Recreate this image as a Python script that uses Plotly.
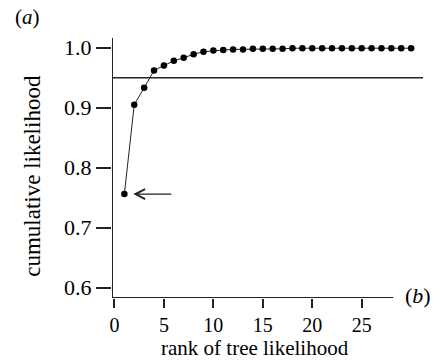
import plotly.graph_objects as go

ranks = list(range(1, 31))
cum_likelihood = [0.756, 0.905, 0.933, 0.962, 0.970, 0.978, 0.983, 0.989, 0.993, 0.995,
                  0.996, 0.997, 0.997, 0.998, 0.998, 0.998, 0.998, 0.999, 0.999, 0.999,
                  0.999, 0.999, 0.999, 0.999, 0.999, 0.999, 0.999, 0.999, 0.999, 0.999]
threshold = 0.95
x_ticks = [0, 5, 10, 15, 20, 25]
y_ticks = [0.6, 0.7, 0.8, 0.9, 1.0]
x_title = "rank of tree likelihood"
y_title = "cumulative likelihood"

FONT = "Liberation Serif"
xr = [-0.25, 31.2]
yr = [0.583, 1.016]

fig = go.Figure()
fig.add_trace(go.Scatter(
    x=ranks, y=cum_likelihood, mode="lines+markers",
    line=dict(color="#222", width=1),
    marker=dict(color="black", size=6.5),
    showlegend=False,
))

fig.add_shape(type="line", xref="paper", yref="y", x0=0, x1=1, y0=threshold, y1=threshold,
              line=dict(color="#222", width=1.5))
# axis lines
fig.add_shape(type="line", xref="x", yref="y", x0=xr[0], x1=28.2, y0=yr[0], y1=yr[0],
              line=dict(color="#222", width=2))
fig.add_shape(type="line", xref="x", yref="y", x0=xr[0], x1=xr[0], y0=yr[0], y1=yr[1],
              line=dict(color="#222", width=2))

fig.add_annotation(x=1.9, y=cum_likelihood[0], ax=5.9, ay=cum_likelihood[0],
                   xref="x", yref="y", axref="x", ayref="y",
                   showarrow=True, arrowhead=5, arrowsize=1.6, arrowwidth=1.2,
                   arrowcolor="#222", text="")

fig.add_annotation(text="(<i>a</i>)", xref="paper", yref="paper", x=-0.318, y=1.081,
                   showarrow=False, font=dict(family=FONT, size=21, color="black"),
                   xanchor="left", yanchor="middle")
fig.add_annotation(text="(<i>b</i>)", xref="paper", yref="paper", x=0.936, y=0.008,
                   showarrow=False, font=dict(family=FONT, size=22, color="black"),
                   xanchor="left", yanchor="middle")
fig.add_annotation(text=x_title, xref="paper", yref="paper", x=0.46, y=-0.2415,
                   showarrow=False, font=dict(family=FONT, size=21, color="black"),
                   xanchor="center", yanchor="bottom", borderpad=0)
fig.add_annotation(text=y_title, xref="paper", yref="paper", x=-0.254, y=0.47,
                   textangle=-90, showarrow=False,
                   font=dict(family=FONT, size=23, color="black"),
                   xanchor="center", yanchor="middle")

fig.update_layout(
    width=443, height=361,
    margin=dict(l=112, r=20, t=38, b=63),
    paper_bgcolor="white", plot_bgcolor="white",
    font=dict(family=FONT, color="black"),
    xaxis=dict(range=xr, tickvals=x_ticks, ticks="outside", ticklen=9, tickwidth=2,
               tickcolor="#222", showline=False, showgrid=False, zeroline=False,
               automargin=False, tickfont=dict(size=20, family=FONT)),
    yaxis=dict(range=yr, tickvals=y_ticks, tickformat=".1f", ticks="outside", ticklen=15,
               tickwidth=2, tickcolor="#222", showline=False, showgrid=False, zeroline=False,
               automargin=False, tickfont=dict(size=22, family=FONT)),
)

fig.write_html("out.html", config={"displayModeBar": False},
               post_script="document.body.style.margin='0px';")
